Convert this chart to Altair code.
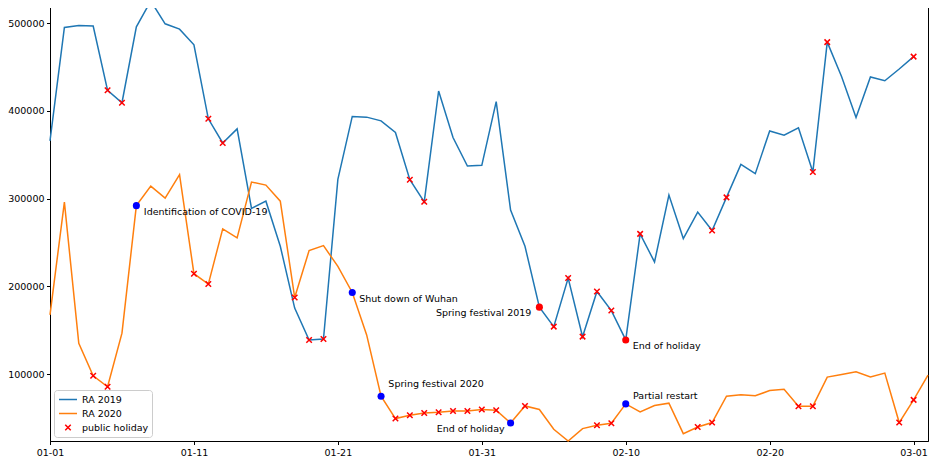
import altair as alt
import pandas as pd

# ---------------- data ----------------
ra_2019 = [365800, 495100, 497400, 496700, 423500, 409300, 495900, 525300, 499300, 493200,
           475300, 391000, 363500, 379500, 288800, 297100, 245700, 175200, 138900, 140000,
           322000, 393700, 392900, 388700, 375400, 321600, 296400, 422700, 369600, 337200,
           338000, 410600, 286900, 245700, 176300, 154100, 209500, 142700, 194200, 172400,
           138900, 259800, 227800, 304000, 254500, 284600, 263600, 301400, 339100, 328500,
           377200, 372300, 380700, 330300, 478400, 439000, 392600, 438700, 434400, 447800,
           461900]

ra_2020 = [167500, 296000, 135100, 98100, 85500, 146600, 292000, 314300, 300600, 327300,
           214400, 202600, 265600, 255300, 318900, 315400, 297100, 187300, 240700, 246400,
           222800, 193000, 144600, 74800, 49300, 53100, 55700, 56500, 58000, 58000,
           59600, 58800, 44300, 63700, 59600, 37100, 23700, 37800, 41600, 43900,
           66000, 56900, 64100, 66800, 32100, 39700, 44700, 74800, 76300, 75200,
           81300, 82800, 63400, 63400, 96600, 99600, 102600, 96600, 101100, 44700,
           70600, 98900]

holiday_days_2019 = [4, 5, 11, 12, 18, 19, 25, 26, 35, 36, 37, 38, 39, 41, 46, 47, 53, 54, 60]
holiday_days_2020 = [3, 4, 10, 11, 17, 24, 25, 26, 27, 28, 29, 30, 31, 33, 38, 39, 45, 46, 52, 53, 59, 60]

event_days = [34, 40, 6, 21, 23, 32, 40]
event_series = ["2019", "2019", "2020", "2020", "2020", "2020", "2020"]
event_labels = ["Spring festival 2019", "End of holiday", "Identification of COVID-19",
                "Shut down of Wuhan", "Spring festival 2020", "End of holiday", "Partial restart"]

series_names = ["RA 2019", "RA 2020", "public holiday"]
tick_dates = ["2020-01-01", "2020-01-11", "2020-01-21", "2020-01-31",
              "2020-02-10", "2020-02-20", "2020-03-01"]
y_ticks = [100000, 200000, 300000, 400000, 500000]

# ---------------- tables ----------------
dates = pd.date_range("2020-01-01", periods=len(ra_2020))
lines = pd.concat([
    pd.DataFrame({"date": dates[:len(ra_2019)], "value": ra_2019, "series": "RA 2019"}),
    pd.DataFrame({"date": dates, "value": ra_2020, "series": "RA 2020"}),
], ignore_index=True)

hol = pd.concat([
    pd.DataFrame({"date": dates[holiday_days_2019], "value": [ra_2019[d] for d in holiday_days_2019]}),
    pd.DataFrame({"date": dates[holiday_days_2020], "value": [ra_2020[d] for d in holiday_days_2020]}),
], ignore_index=True)
hol["series"] = "public holiday"

ev = pd.DataFrame({
    "date": dates[event_days],
    "value": [(ra_2019 if s == "2019" else ra_2020)[d] for d, s in zip(event_days, event_series)],
    "label": event_labels,
    "year": event_series,
})

ymin = min(ra_2019 + ra_2020)
ymax = max(ra_2019 + ra_2020)


def dt(s):
    y, m, d = (int(p) for p in s.split("-"))
    return alt.DateTime(year=y, month=m, date=d)


x_enc = alt.X("date:T", title=None,
              scale=alt.Scale(domain=[dt("2020-01-01"), dt("2020-03-02")], nice=False),
              axis=alt.Axis(values=[dt(t) for t in tick_dates], format="%m-%d", labelFlush=False))
y_enc = alt.Y("value:Q", title=None,
              scale=alt.Scale(domain=[ymin, ymax], nice=False, zero=False),
              axis=alt.Axis(values=y_ticks, format="d"))

# symbol paths (unit box = sqrt(size) px). The x glyph sits 0.9 units right of
# the symbol centre so it is centred on the legend line; the plotted marks are
# shifted back by the same amount with xOffset.
SYM_SIZE = 100
XPATH = "M0.35,-0.55L1.45,0.55M0.35,0.55L1.45,-0.55"
LPATH = "M-0.9,0L2.7,0"
X_SHIFT = -4.5

legend = alt.Legend(title=None, orient="bottom-left", offset=4, fillColor="white",
                    strokeColor="#cccccc", cornerRadius=3, padding=3.5,
                    labelFont="DejaVu Sans", labelFontSize=9.5, labelColor="black",
                    symbolSize=SYM_SIZE, symbolStrokeWidth=1.5, rowPadding=3, labelOffset=12.5)

color_enc = alt.Color("series:N",
                      scale=alt.Scale(domain=series_names, range=["#1f77b4", "#ff7f0e", "red"]),
                      legend=legend)
shape_enc = alt.Shape("series:N",
                      scale=alt.Scale(domain=series_names, range=[LPATH, LPATH, XPATH]),
                      legend=legend)

line_layer = alt.Chart(lines).mark_line(strokeWidth=1.5).encode(
    x=x_enc, y=y_enc, color=color_enc, shape=shape_enc)

hol_layer = alt.Chart(hol).mark_point(filled=False, strokeWidth=1.5, size=SYM_SIZE, opacity=1,
                                      xOffset=X_SHIFT).encode(
    x=x_enc, y=y_enc, color=color_enc, shape=shape_enc)

dots19 = alt.Chart(ev).transform_filter(alt.datum.year == "2019").mark_point(
    filled=True, size=50, color="red", opacity=1, shape="circle").encode(x=x_enc, y=y_enc)
dots20 = alt.Chart(ev).transform_filter(alt.datum.year == "2020").mark_point(
    filled=True, size=50, color="blue", opacity=1, shape="circle").encode(x=x_enc, y=y_enc)

# text placement (pixel offsets from the marker) per annotation
text_style = {
    ("2019", "Spring festival 2019"): ("right", -8, 6),
    ("2019", "End of holiday"): ("left", 7, 6),
    ("2020", "Identification of COVID-19"): ("left", 7.5, 6),
    ("2020", "Shut down of Wuhan"): ("left", 7, 6.5),
    ("2020", "Spring festival 2020"): ("left", 7.3, -12),
    ("2020", "End of holiday"): ("right", -6, 6.5),
    ("2020", "Partial restart"): ("left", 7.3, -8),
}
text_layers = []
for (yr, lab), (al, dx, dy) in text_style.items():
    text_layers.append(
        alt.Chart(ev).transform_filter((alt.datum.year == yr) & (alt.datum.label == lab))
        .mark_text(align=al, dx=dx, dy=dy, baseline="middle", font="DejaVu Sans",
                   fontSize=9.5, color="black")
        .encode(x=x_enc, y=y_enc, text="label:N"))

chart = alt.layer(line_layer, hol_layer, dots19, dots20, *text_layers).properties(
    width=878, height=440,
    autosize=alt.AutoSizeParams(type="none"),
    padding={"left": 42, "top": -7, "right": 1, "bottom": 24},
).configure_view(stroke="black", strokeWidth=1).configure_axis(
    domainColor="black", tickColor="black", labelColor="black", labelFont="DejaVu Sans",
    labelFontSize=9.5, tickSize=3.5, labelPadding=2.5, grid=False, domainWidth=1, tickWidth=1)

chart.save("out.html", embed_options={"renderer": "svg", "actions": False})
